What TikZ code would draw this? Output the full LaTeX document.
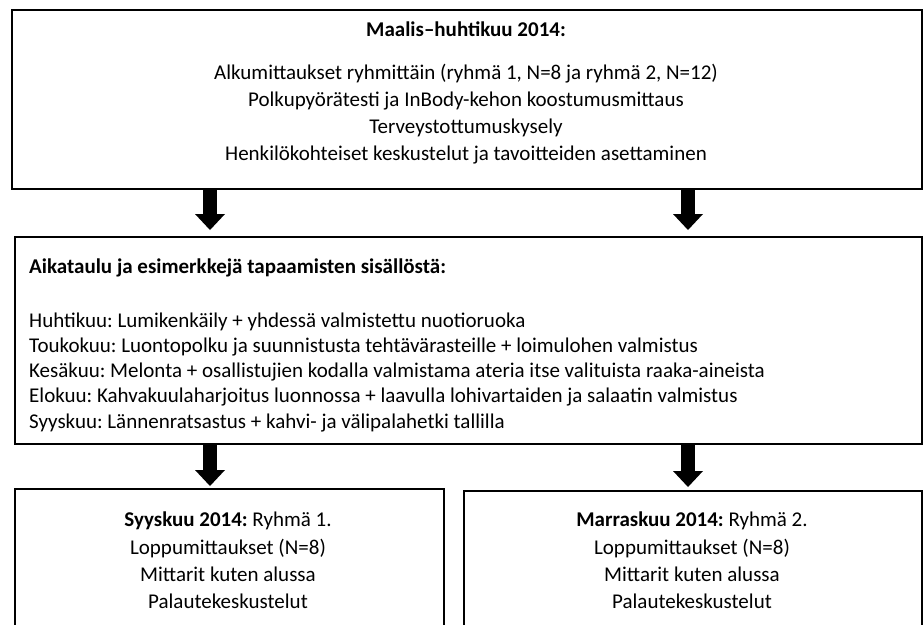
\documentclass[tikz,border=0pt]{standalone}
\usepackage{fontspec}
\setmainfont{Carlito}
\usetikzlibrary{arrows.meta}
\frenchspacing
\begin{document}
\begin{tikzpicture}[x=1pt,y=-1pt,
  box/.style={draw, line width=2.4pt, anchor=north west, inner sep=0pt},
  txt/.style={inner sep=0pt, anchor=base, font=\fontsize{21pt}{25pt}\selectfont},
  ltxt/.style={txt, anchor=base west},
  fat/.style={line width=14pt, -{Triangle[width=30pt,length=16pt,line width=0pt]}}]
\useasboundingbox (0,0) rectangle (923,624);
\clip (0,0) rectangle (923,624);
% boxes
\node[box, minimum width=910pt, minimum height=179pt] (top) at (11,9) {};
\node[box, minimum width=907pt, minimum height=207pt] (mid) at (14,236) {};
\node[box, minimum width=429pt, minimum height=200pt] (bl) at (14,488) {};
\node[box, minimum width=458pt, minimum height=200pt] (br) at (463,490) {};
% top text
\node[txt] (t0) at (466,36) {\bfseries Maalis–huhtikuu 2014:};
\node[txt] (t1) at (466,79) {Alkumittaukset ryhmittäin (ryhmä 1, N=8 ja ryhmä 2, N=12)};
\node[txt] (t2) at (466,106) {Polkupyörätesti ja InBody-kehon koostumusmittaus};
\node[txt] (t3) at (466,133) {Terveystottumuskysely};
\node[txt] (t4) at (466,160) {Henkilökohteiset keskustelut ja tavoitteiden asettaminen};
% middle text
\node[ltxt] (m0) at (29,273) {\bfseries Aikataulu ja esimerkkejä tapaamisten sisällöstä:};
\node[ltxt] (m1) at (29,327) {Huhtikuu: Lumikenkäily + yhdessä valmistettu nuotioruoka};
\node[ltxt] (m2) at (29,352.3) {Toukokuu: Luontopolku ja suunnistusta tehtävärasteille + loimulohen valmistus};
\node[ltxt] (m3) at (29,377.5) {Kesäkuu: Melonta + osallistujien kodalla valmistama ateria itse valituista raaka-aineista};
\node[ltxt] (m4) at (29,402.8) {Elokuu: Kahvakuulaharjoitus luonnossa + laavulla lohivartaiden ja salaatin valmistus};
\node[ltxt] (m5) at (29,428) {Syyskuu: Lännenratsastus + kahvi- ja välipalahetki tallilla};
% bottom left text
\node[txt] (l0) at (228,526) {\textbf{Syyskuu 2014:} Ryhmä 1.};
\node[txt] (l1) at (228,554) {Loppumittaukset (N=8)};
\node[txt] (l2) at (228,581) {Mittarit kuten alussa};
\node[txt] (l3) at (228,608) {Palautekeskustelut};
% bottom right text
\node[txt] (r0) at (692,526) {\textbf{Marraskuu 2014:} Ryhmä 2.};
\node[txt] (r1) at (692,554) {Loppumittaukset (N=8)};
\node[txt] (r2) at (692,581) {Mittarit kuten alussa};
\node[txt] (r3) at (692,608) {Palautekeskustelut};
% arrows
\coordinate (ax) at (210,0);
\coordinate (bx) at (688,0);
\draw[fat, shorten >=6pt] (top.south -| ax) -- (mid.north -| ax);
\draw[fat, shorten >=6pt] (top.south -| bx) -- (mid.north -| bx);
\draw[fat, shorten >=2pt] (mid.south -| ax) -- (bl.north -| ax);
\draw[fat, shorten >=3pt] (mid.south -| bx) -- (br.north -| bx);
\end{tikzpicture}
\end{document}
